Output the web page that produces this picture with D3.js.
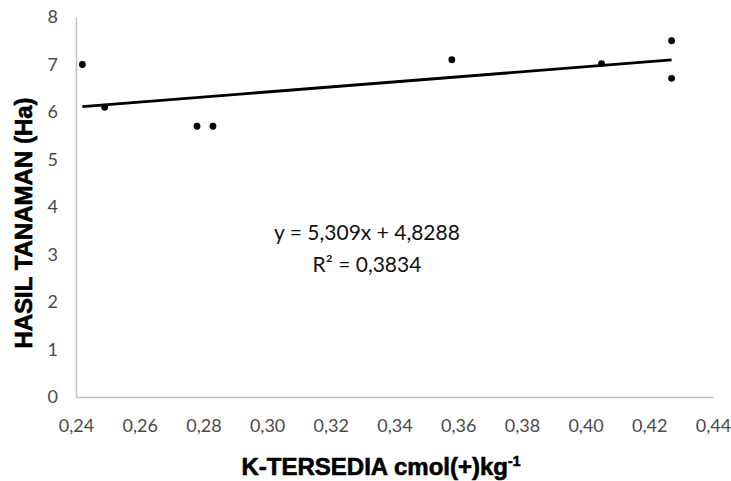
<!DOCTYPE html>
<html>
<head>
<meta charset="utf-8">
<script src="https://cdn.jsdelivr.net/npm/d3@7"></script>
<style>
  body { margin: 0; background: #fff; }
  svg { display: block; }
  .tick text { font-family: Lato, "Liberation Sans", sans-serif; font-size: 18px; fill: #4a4a4a; }
  .title { font-family: "Liberation Sans", Arial, sans-serif; font-weight: bold; fill: #000; stroke: #000; stroke-width: 0.6px; }
  .eq { font-family: Lato, sans-serif; font-size: 21px; fill: #111; }
</style>
</head>
<body>
<svg id="chart"></svg>
<script>
const width = 731, height = 481;
const margin = {top: 17, right: 18, bottom: 84, left: 76};

// data
const kTersedia = [0.242, 0.249, 0.278, 0.283, 0.358, 0.405, 0.427, 0.427];
const hasil = [7.0, 6.1, 5.7, 5.7, 7.1, 7.02, 7.5, 6.71];
const slope = 5.309, intercept = 4.8288;
const eqLabel = 'y = 5,309x + 4,8288';
const r2Label = 'R² = 0,3834';
const xTicks = [0.24, 0.26, 0.28, 0.30, 0.32, 0.34, 0.36, 0.38, 0.40, 0.42, 0.44];
const yTicks = [0, 1, 2, 3, 4, 5, 6, 7, 8];

const svg = d3.select('#chart').attr('width', width).attr('height', height);

const x = d3.scaleLinear().domain([0.24, 0.44]).range([margin.left, width - margin.right]);
const y = d3.scaleLinear().domain([0, 8]).range([height - margin.bottom, margin.top]);

const fmt = d => d3.format('.2f')(d).replace('.', ',');

const xAxis = svg.append('g')
    .attr('transform', `translate(0,${y(0)})`)
    .call(d3.axisBottom(x).tickValues(xTicks).tickFormat(fmt).tickSize(0).tickPadding(22));
xAxis.select('.domain').attr('stroke', '#c0c0c0').attr('stroke-width', 1.5);

const yAxis = svg.append('g')
    .attr('transform', `translate(${x(0.24)},0)`)
    .call(d3.axisLeft(y).tickValues(yTicks).tickFormat(d3.format('d')).tickSize(0).tickPadding(18));
yAxis.select('.domain').attr('stroke', '#c0c0c0').attr('stroke-width', 1.5);

// trendline
const xMin = d3.min(kTersedia), xMax = d3.max(kTersedia);
svg.append('line')
    .attr('x1', x(xMin)).attr('y1', y(slope * xMin + intercept))
    .attr('x2', x(xMax)).attr('y2', y(slope * xMax + intercept))
    .attr('stroke', '#000').attr('stroke-width', 2.8);

svg.selectAll('.pt')
    .data(kTersedia)
    .join('circle')
    .attr('class', 'pt')
    .attr('cx', d => x(d))
    .attr('cy', (d, i) => y(hasil[i]))
    .attr('r', 3.4)
    .attr('fill', '#000');

svg.append('text').attr('class', 'eq')
    .attr('x', 367).attr('y', 240).attr('text-anchor', 'middle')
    .text(eqLabel);
svg.append('text').attr('class', 'eq')
    .attr('x', 367).attr('y', 272).attr('text-anchor', 'middle')
    .text(r2Label);

svg.append('text').attr('class', 'title')
    .attr('x', 381).attr('y', 475).attr('text-anchor', 'middle')
    .attr('font-size', 24)
    .html('K-TERSEDIA cmol(+)kg<tspan dy="-9" font-size="14">-1</tspan>');

svg.append('text').attr('class', 'title')
    .attr('transform', 'translate(32,223) rotate(-90)')
    .attr('text-anchor', 'middle')
    .attr('font-size', 24)
    .text('HASIL TANAMAN (Ha)');
</script>
</body>
</html>
